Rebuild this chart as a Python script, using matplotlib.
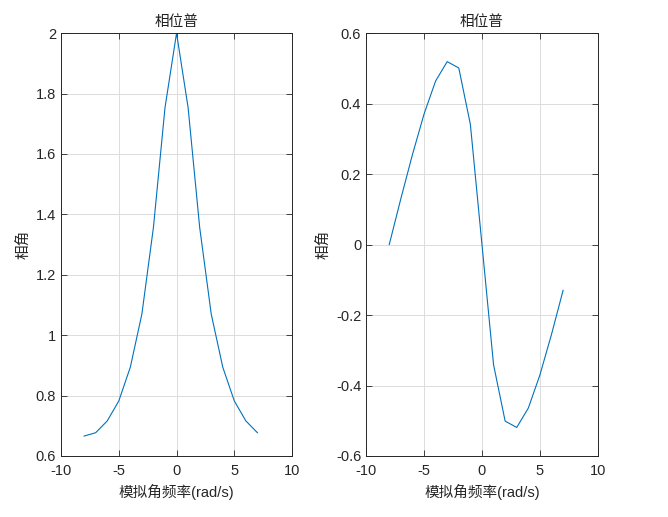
import matplotlib
matplotlib.use("Agg")
import matplotlib.pyplot as plt

plt.rcParams['font.family'] = ['Liberation Sans', 'Noto Sans CJK SC', 'DejaVu Sans']
plt.rcParams['axes.unicode_minus'] = False

# frequency samples (rad/s)
w = [-8, -7, -6, -5, -4, -3, -2, -1, 0, 1, 2, 3, 4, 5, 6, 7]
# left panel
mag = [0.666, 0.677, 0.716, 0.782, 0.894, 1.070, 1.357, 1.753, 2.0,
       1.753, 1.357, 1.070, 0.894, 0.782, 0.716, 0.677]
# right panel
phase = [0.0, 0.130, 0.255, 0.370, 0.464, 0.519, 0.501, 0.341, 0.0,
         -0.341, -0.501, -0.519, -0.464, -0.370, -0.255, -0.130]

title = '相位普'
xlabel = '模拟角频率(rad/s)'
ylabel = '相角'

fig = plt.figure(figsize=(6.68, 5.17), dpi=100)
ax1 = fig.add_axes([0.0913, 0.118, 0.346, 0.818])
ax2 = fig.add_axes([0.548, 0.118, 0.347, 0.818])

for ax, y, ylim, yt in [(ax1, mag, (0.6, 2.0), [0.6, 0.8, 1, 1.2, 1.4, 1.6, 1.8, 2]),
                        (ax2, phase, (-0.6, 0.6), [-0.6, -0.4, -0.2, 0, 0.2, 0.4, 0.6])]:
    ax.plot(w, y, color='#0072BD', lw=0.8)
    ax.set_xlim(-10, 10)
    ax.set_ylim(*ylim)
    ax.set_xticks([-10, -5, 0, 5, 10])
    ax.set_yticks(yt)
    ax.set_yticklabels([f'{v:g}' for v in yt])
    ax.grid(True, color='#dcdcdc', lw=0.7)
    ax.set_axisbelow(True)
    ax.tick_params(direction='in', top=True, right=True, length=4,
                   labelsize=10.5, colors='#262626', width=0.6)
    ax.tick_params(axis='x', pad=6)
    for s in ax.spines.values():
        s.set_color('#262626')
        s.set_linewidth(0.7)
    ax.set_title(title, fontsize=10.5, color='#222222', pad=5)
    ax.set_xlabel(xlabel, fontsize=10.5, color='#262626', labelpad=4)
    ax.set_ylabel(ylabel, fontsize=10.5, color='#262626', labelpad=4)

fig.savefig('out.png', dpi=100)
